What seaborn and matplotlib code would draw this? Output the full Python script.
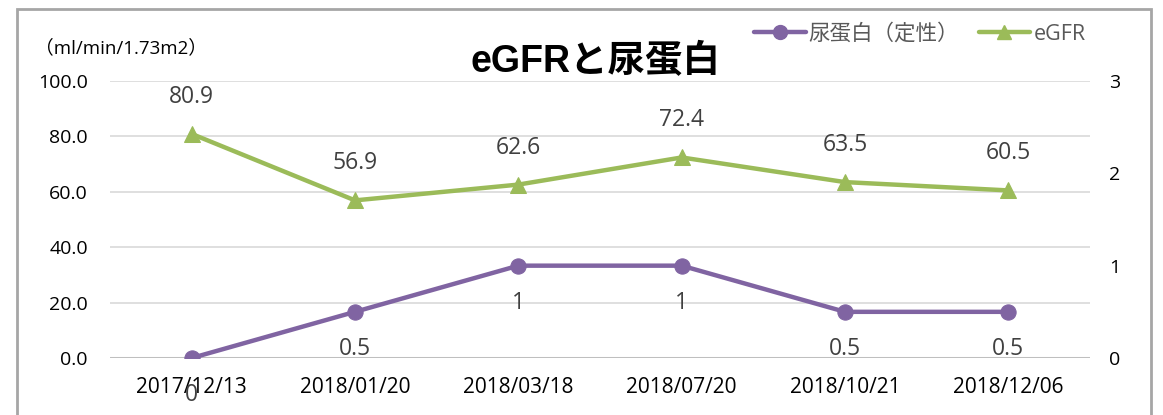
import matplotlib
matplotlib.use("Agg")
import matplotlib.pyplot as plt
import seaborn as sns
import pandas as pd
from matplotlib.lines import Line2D
from matplotlib.patches import Rectangle

dates = ["2017/12/13", "2018/01/20", "2018/03/18", "2018/07/20", "2018/10/21", "2018/12/06"]
egfr = [80.9, 56.9, 62.6, 72.4, 63.5, 60.5]
protein = [0, 0.5, 1, 1, 0.5, 0.5]
protein_labels = ["0", "0.5", "1", "1", "0.5", "0.5"]
left_ticks = [0, 20, 40, 60, 80, 100]
right_ticks = [0, 1, 2, 3]

sns.set_theme(style="white")
FONTS = ["Open Sans", "Noto Sans CJK JP", "DejaVu Sans"]
plt.rcParams["font.family"] = FONTS

GREEN = "#9BBB59"
PURPLE = "#8064A2"
LABEL = "#404040"

df = pd.DataFrame({"date": dates, "egfr": egfr, "protein": protein})

fig = plt.figure(figsize=(11.63, 4.15), dpi=100)
ax = fig.add_axes([110 / 1163, 1 - 358 / 415, (1090 - 110) / 1163, (358 - 81) / 415])
ax2 = ax.twinx()

# gridlines
ax.set_ylim(0, 100)
ax.set_yticks(left_ticks)
ax.set_yticklabels([f"{v:.1f}" for v in left_ticks], fontsize=14, color="black")
for v in left_ticks[1:]:
    ax.axhline(v, color="#D9D9D9", lw=1.2, zorder=0)
ax.axhline(0, color="#BFBFBF", lw=2.2, zorder=1)

sns.lineplot(data=df, x="date", y="egfr", ax=ax, sort=False, color=GREEN,
             lw=3.2, marker="^", markersize=12, markeredgecolor=GREEN, zorder=3)
sns.lineplot(data=df, x="date", y="protein", ax=ax2, sort=False, color=PURPLE,
             lw=3.2, marker="o", markersize=11, markeredgecolor=PURPLE, zorder=3)

ax.set_xlim(-0.5, len(dates) - 0.5)
ax2.set_ylim(0, 3)
ax2.set_yticks(right_ticks)
ax2.set_yticklabels([str(v) for v in right_ticks], fontsize=14, color="black")

for a in (ax, ax2):
    a.set_xlabel("")
    a.set_ylabel("")
    for s in a.spines.values():
        s.set_visible(False)
    a.tick_params(length=0)
    a.set_facecolor("none")
ax.tick_params(axis="y", pad=16)
ax2.tick_params(axis="y", pad=14)
ax.tick_params(axis="x", pad=14)
ax.set_xticks(range(len(dates)))
ax.set_xticklabels(dates, fontsize=15, color="black")

for i, v in enumerate(egfr):
    ax.annotate(f"{v:.1f}", (i, v), xytext=(0, 37), textcoords="offset pixels",
                ha="center", va="center", fontsize=16.5, color=LABEL)
for i, (v, lab) in enumerate(zip(protein, protein_labels)):
    ax2.annotate(lab, (i, v), xytext=(0, -37), textcoords="offset pixels",
                 ha="center", va="center", fontsize=16.5, color=LABEL)

# title and unit
fig.text(595 / 1163, 1 - 62 / 415, "eGFRと尿蛋白", ha="center", va="center",
         fontsize=27, fontweight="bold", color="black",
         family=["Liberation Sans", "Noto Sans CJK JP"])
fig.text(35 / 1163, 1 - 48 / 415, "（ml/min/1.73m2）", ha="left", va="center",
         fontsize=13.5, color="black")

handles = [
    Line2D([], [], color=PURPLE, lw=3.2, marker="o", markersize=10),
    Line2D([], [], color=GREEN, lw=3.2, marker="^", markersize=10),
]
fig.legend(handles, ["尿蛋白（定性）", "eGFR"], loc="center right",
           bbox_to_anchor=(1105 / 1163, 1 - 34 / 415), ncol=2, frameon=False,
           fontsize=15.5, labelcolor="#595959", handlelength=2.4,
           handletextpad=0.15, columnspacing=0.9)

fig.add_artist(Rectangle((17 / 1163, -0.05), (1151 - 17) / 1163, 1.05 - 9 / 415,
                         transform=fig.transFigure, fill=False,
                         edgecolor="#A6A6A6", lw=2))

fig.savefig("out.png", dpi=100)
